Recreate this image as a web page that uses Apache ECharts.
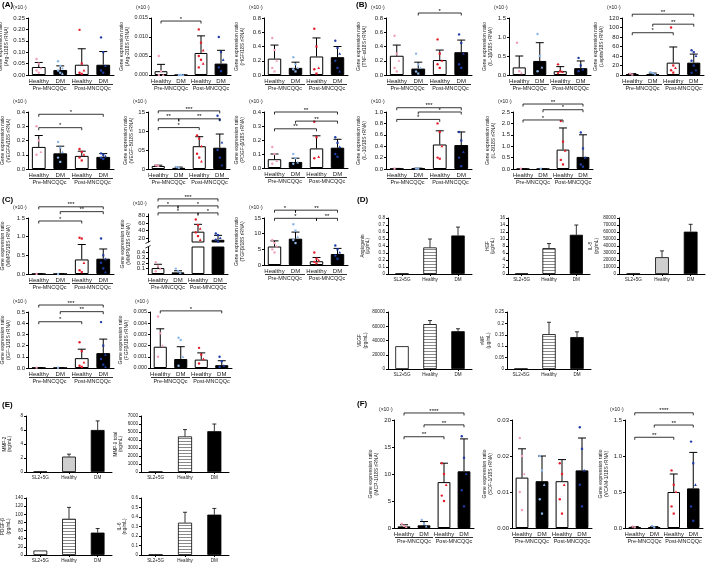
<!DOCTYPE html>
<html><head><meta charset="utf-8">
<script src="https://cdn.jsdelivr.net/npm/echarts@6/dist/echarts.min.js"></script>
<style>html,body{margin:0;padding:0;background:#fff}#c{width:709px;height:564px}</style>
</head><body><div id="c"></div>
<script>
// ---------- categories ----------
const CAT4 = ['Healthy','DM','Healthy','DM'];
const GROUPS = ['Pre-MNCQQc','Post-MNCQQc'];
const CAT3 = ['SL2+5G','Healthy','DM'];

// ---------- (A) ----------
const arg1Mean = [0.035,0.022,0.045,0.045];
const arg1Sd   = [0.055,0.040,0.115,0.103];
const arg1Pts  = [[0.07,0.05,0.03,0.02,0.01],[0.06,0.04,0.03,0.02,0.01,0.005],[0.198,0.05,0.02,0.01,0.005],[0.165,0.10,0.04,0.02,0.01]];
const arg1Sig  = [];

const arg2Mean = [0.001,0,0.0058,0.003];
const arg2Sd   = [0.0028,0,0.0103,0.0065];
const arg2Pts  = [[0.005,0.001,0,0],[0,0,0],[0.012,0.0085,0.0065,0.005,0.004,0.003,0.002],[0.010,0.006,0.004,0.002,0.001]];
const arg2Sig  = [[0,2,0.0142,'*']];

const hgfMean = [0.23,0.10,0.26,0.25];
const hgfSd   = [0.42,0.18,0.52,0.40];
const hgfPts  = [[0.52,0.35,0.2,0.1,0.05],[0.25,0.15,0.1,0.08,0.05],[0.65,0.4,0.1,0.08,0.02],[0.48,0.38,0.3,0.2,0.1,0.05]];
const hgfSig  = [];

const vegfaMean = [0.155,0.11,0.092,0.085];
const vegfaSd   = [0.235,0.16,0.125,0.108];
const vegfaPts  = [[0.30,0.2,0.12,0.1],[0.19,0.15,0.12,0.08,0.05],[0.14,0.12,0.10,0.08,0.06],[0.11,0.10,0.09,0.08,0.07]];
const vegfaSig  = [[0,3,0.384,'*'],[0,2,0.29,'*']];

const vegfbMean = [0.08,0.03,0.60,0.56];
const vegfbSd   = [0.10,0.05,0.85,0.92];
const vegfbPts  = [[0.10,0.08],[0.05,0.03],[0.88,0.8,0.6,0.4,0.3,0.2],[1.4,1.3,0.7,0.5,0.3,0.1]];
const vegfbSig  = [[0,3,1.53,'***'],[0,1,1.32,'**'],[1,3,1.32,'**'],[0,2,1.09,'*']];
const vegfbTicks = {'0':'0','0.5':'05','1':'10','1.5':'15'};

const pdgfMean = [0.063,0.043,0.14,0.145];
const pdgfSd   = [0.10,0.07,0.23,0.205];
const pdgfPts  = [[0.15,0.10,0.05,0.03],[0.10,0.07,0.04,0.03],[0.33,0.22,0.08,0.07],[0.22,0.18,0.15,0.10,0.08]];
const pdgfSig  = [[0,3,0.40,'**'],[1,3,0.335,'**'],[0,2,0.28,'**']];

// ---------- (B) ----------
const tnfMean = [0.27,0.09,0.21,0.32];
const tnfSd   = [0.42,0.18,0.35,0.49];
const tnfPts  = [[0.55,0.3,0.2,0.1,0.05],[0.3,0.15,0.1,0.05,0.02],[0.5,0.3,0.2,0.15,0.1],[0.57,0.45,0.3,0.15,0.1]];
const tnfSig  = [[1,3,0.87,'*']];

const il1Mean = [0.20,0.37,0.10,0.18];
const il1Sd   = [0.50,0.85,0.22,0.37];
const il1Pts  = [[0.85,0.1,0.05],[1.08,0.5,0.2,0.1],[0.28,0.1,0.08,0.05],[0.45,0.25,0.15,0.1]];
const il1Sig  = [];

const leptinMean = [2,2,26,26];
const leptinSd   = [3,4,59,44];
const leptinPts  = [[3,1],[6,4,2],[100,20,15,10,5],[52,48,40,30,20,10,5]];
const leptinSig  = [[0,3,128,'**'],[1,3,107,'**'],[0,2,89,'*']];

const il10Mean = [0.005,0.01,0.43,0.42];
const il10Sd   = [0.01,0.015,0.67,0.65];
const il10Pts  = [[0.005],[0.01,0.005],[0.8,0.65,0.4,0.2,0.18],[0.65,0.5,0.3,0.2,0.05]];
const il10Sig  = [[0,3,1.075,'***'],[1,3,1.0,'*'],[0,2,0.87,'*']];

const il8Mean = [0.005,0.005,0.85,0.53];
const il8Sd   = [0.01,0.01,1.8,1.5];
const il8Pts  = [[0.01],[0.01],[2.1,1.2,0.8,0.4,0.2],[1.6,0.9,0.5,0.2,0.1]];
const il8Sig  = [[0,3,2.85,'**'],[1,3,2.6,'*'],[0,2,2.15,'*']];

// ---------- (C) ----------
const mmp2Mean = [0.002,0.002,0.39,0.41];
const mmp2Sd   = [0.005,0.005,0.79,0.67];
const mmp2Pts  = [[0.003],[0.002],[0.97,0.95,0.3,0.1,0.05],[0.95,0.5,0.4,0.3,0.15,0.05]];
const mmp2Sig  = [[0,3,1.8,'***'],[1,3,1.67,'**'],[0,2,1.42,'*']];

const mmp9Mean = [0.11,0.03,37,15];
const mmp9Sd   = [0.18,0.06,57,27];
const mmp9Pts  = [[0.22,0.15,0.1,0.05],[0.1,0.05,0.02],[70,55,45,35,25,15],[32,28,20,15,10]];
const mmp9Sig  = [[0,3,126,'***'],[0,1,107,'*'],[1,3,107,'*'],[0,2,88,'*'],[2,3,88,'*']];
const mmp9TopTicks = [20,40,60,80];

const tgfMean = [5.9,8.4,1.2,3.5];
const tgfSd   = [7.7,10.5,2.4,5.3];
const tgfPts  = [[8,7,6,5,4],[13,11,9,8,7],[4,2,1.5,1,0.5],[6.2,5,4,3,2]];
const tgfSig  = [[0,1,17.5,'*'],[1,3,17.5,'**'],[0,2,14.9,'*'],[2,3,14.9,'**']];

const igfMean = [0.002,0.001,0.088,0.133];
const igfSd   = [0.004,0.002,0.168,0.258];
const igfPts  = [[0.003],[0.002],[0.23,0.15,0.05,0.02,0.01],[0.41,0.2,0.12,0.08,0.03,0.01]];
const igfSig  = [[0,3,0.5625,'***'],[1,3,0.503,'**'],[0,2,0.413,'*']];

const fgfMean = [0.0019,0.0008,0.00075,0.00025];
const fgfSd   = [0.0035,0.0019,0.00135,0.00065];
const fgfPts  = [[0.0046,0.0031,0.002,0.001],[0.0027,0.0025,0.001,0.0002],[0.0018,0.0012,0.0008,0.0004],[0.001,0.0006,0.0002,0.0001]];
const fgfSig  = [[0,3,0.0051,'*']];

// ---------- (F) ----------
const mcpMean = [0.3,0.5,8.5,10.5];
const mcpSd   = [0.6,1.2,12,16.5];
const mcpPts  = [[0.8,0.4,0.2],[1.5,0.8,0.3],[12,10,8,6,5],[17,13,10,7,4]];
const mcpSig  = [[0,3,21.3,'****'],[1,3,19.1,'**'],[0,2,16.9,'**']];

const sdfMean = [0.014,0.013,0.013,0.016];
const sdfSd   = [0.022,0.020,0.019,0.025];
const sdfPts  = [[0.025,0.02,0.015,0.01,0.005],[0.02,0.016,0.012,0.008,0.004],[0.018,0.015,0.012,0.008,0.004],[0.028,0.022,0.016,0.012,0.006]];
const sdfSig  = [];

const vcamMean = [0.01,0.01,0.5,0.55];
const vcamSd   = [0.02,0.02,0.75,1.05];
const vcamPts  = [[0.02,0.01],[0.03,0.01],[0.8,0.6,0.5,0.3,0.2],[1.2,0.9,0.6,0.3,0.1]];
const vcamSig  = [[0,3,1.6,'****'],[1,3,1.43,'**'],[0,2,1.26,'**']];

// ---------- (D) & (E) ----------
const angMean = [0.005,0.38,0.55];   const angSd = [null,0.50,0.67];
const dHgfMean = [0.1,7.4,11.2];     const dHgfSd = [null,8.7,14.0];
const dIl8Mean = [500,24000,60500];  const dIl8Sd = [null,33000,71000];
const dVegfMean = [32000,63000,53000]; const dVegfSd = [null,68000,56500];
const vwfMean = [0.001,0.153,0.14];  const vwfSd = [null,0.205,0.163];
const eMmp2Mean = [0.05,2.2,6.0];    const eMmp2Sd = [null,2.55,7.3];
const eMmp9Mean = [30,4450,5100];    const eMmp9Sd = [null,5300,6000];
const ePdgfMean = [11,89,55];        const ePdgfSd = [null,117,65];
const eIl6Mean = [0.003,0.34,0.425]; const eIl6Sd = [null,0.45,0.49];

// ---------- styling / building ----------
const FONT = '"Liberation Sans", Arial, sans-serif';
const TXT = '#1a1a1a';
const PCOL = ['#f2a0b6','#8cb7e9','#e31d2a','#1f3ea8'];
function stripe(){
  const cv = document.createElement('canvas'); cv.width = 4; cv.height = 3;
  const x = cv.getContext('2d'); x.fillStyle = '#fff'; x.fillRect(0,0,4,3);
  x.fillStyle = '#8a8a8a'; x.fillRect(0,0,4,1);
  return {image: cv, repeat: 'repeat'};
}
const STRIPE = stripe();

const option = {animation:false, backgroundColor:'#fff', textStyle:{fontFamily:FONT},
  grid:[], xAxis:[], yAxis:[], series:[], graphic:[]};

function addGrid(l,t,w,h){
  option.grid.push({left:l, top:t, width:w, height:h, containLabel:false, outerBoundsMode:'none'});
  return option.grid.length-1;
}
function gtext(x,y,text,size){
  option.graphic.push({type:'text', x:x, y:y, silent:true,
    style:{text:text, fontSize:size, fill:TXT, fontFamily:FONT, align:'left', verticalAlign:'top'}});
}
function addBars(g, mean, fills, bw, bc, lw){
  option.series.push({type:'bar', xAxisIndex:g, yAxisIndex:g, barWidth:bw, clip:true, silent:true, z:2,
    data: mean.map((v,i)=>({value:v, itemStyle:{color:fills[i], borderColor:bc||'#000', borderWidth:lw||1}}))});
}
function addErr(g, mean, sd, cap, lw){
  const data = [];
  mean.forEach((m,i)=>{ if (sd[i] !== null && sd[i] !== undefined) data.push([i, m, sd[i]]); });
  option.series.push({type:'custom', xAxisIndex:g, yAxisIndex:g, clip:false, silent:true, z:3, data:data,
    renderItem:(p,api)=>{
      const a = api.coord([api.value(0), api.value(1)]);
      const b = api.coord([api.value(0), api.value(2)]);
      return {type:'group', children:[
        {type:'line', shape:{x1:a[0],y1:a[1],x2:b[0],y2:b[1]}, style:{stroke:'#000', lineWidth:lw||1}},
        {type:'line', shape:{x1:b[0]-cap,y1:b[1],x2:b[0]+cap,y2:b[1]}, style:{stroke:'#000', lineWidth:lw||1}}]};
    }});
}
function addPts(g, pts, filter){
  const data = [];
  pts.forEach((arr,i)=>arr.forEach((v,j)=>{ if (!filter || filter(i,v)) data.push([i, v, j]); }));
  option.series.push({type:'custom', xAxisIndex:g, yAxisIndex:g, clip:false, silent:true, z:4, data:data,
    renderItem:(p,api)=>{
      const i = api.value(0), j = api.value(2);
      const c = api.coord([i, api.value(1)]);
      const dx = ((j % 3) - 1) * 2.2;
      const col = PCOL[i];
      if (j % 3 === 1) return {type:'rect', shape:{x:c[0]+dx-1.1, y:c[1]-1.1, width:2.2, height:2.2}, style:{fill:col}};
      if (j % 3 === 2) return {type:'polygon', shape:{points:[[c[0]+dx,c[1]-1.5],[c[0]+dx-1.4,c[1]+1.1],[c[0]+dx+1.4,c[1]+1.1]]}, style:{fill:col}};
      return {type:'circle', shape:{cx:c[0]+dx, cy:c[1], r:1.2}, style:{fill:col}};
    }});
}
function addSig(g, sig){
  if (!sig.length) return;
  option.series.push({type:'custom', xAxisIndex:g, yAxisIndex:g, clip:false, silent:true, z:5,
    data: sig.map(s=>[s[0], s[2]]),
    renderItem:(p,api)=>{
      const s = sig[p.dataIndex];
      const a = api.coord([s[0], s[2]]), b = api.coord([s[1], s[2]]);
      const d = 2.5;
      return {type:'group', children:[
        {type:'polyline', shape:{points:[[a[0],a[1]+d],[a[0],a[1]],[b[0],b[1]],[b[0],b[1]+d]]}, style:{stroke:'#000', lineWidth:0.8, fill:null}},
        {type:'text', x:(a[0]+b[0])/2, y:a[1]+1, style:{text:s[3], fontSize:6, fontFamily:FONT, align:'center', verticalAlign:'bottom', fill:'#000'}}]};
    }});
}
function addGroups(g){
  option.series.push({type:'custom', xAxisIndex:g, yAxisIndex:g, clip:false, silent:true, z:5,
    data:[[0,0],[2,0]],
    renderItem:(p,api)=>{
      const i = api.value(0);
      const a = api.coord([i,0]), b = api.coord([i+1,0]);
      const bw = api.size([1,0])[0];
      const y = a[1] + 9.5;
      return {type:'group', children:[
        {type:'line', shape:{x1:a[0]-bw/2+1, y1:y, x2:b[0]+bw/2-1, y2:y}, style:{stroke:'#000', lineWidth:0.8}},
        {type:'text', x:(a[0]+b[0])/2, y:y+4.2, style:{text:GROUPS[p.dataIndex], fontSize:5.5, fontFamily:FONT, align:'center', verticalAlign:'middle', fill:TXT}}]};
    }});
}
function xCat(g, data, fs, tick, show){
  option.xAxis.push({type:'category', gridIndex:g, data:data, show:show!==false,
    axisLine:{lineStyle:{color:'#000', width:1}},
    axisTick:{show:!!tick, alignWithLabel:true, length:2, lineStyle:{color:'#000'}},
    axisLabel:{interval:0, fontSize:fs, color:TXT, margin:3, fontFamily:FONT}});
}
function yVal(g, c, fs, name, gap, nfs){
  const y = {type:'value', gridIndex:g, min:c.min||0, max:c.max, splitLine:{show:false},
    axisLine:{show:true, lineStyle:{color:'#000', width:1}},
    axisTick:{show:true, length:2, lineStyle:{color:'#000'}},
    axisLabel:{fontSize:c.lfs||fs, color:TXT, margin:3, fontFamily:FONT}};
  if (c.step) y.interval = c.step;
  if (c.fmt) y.axisLabel.formatter = c.fmt;
  else if (c.dec !== undefined) y.axisLabel.formatter = v => v.toFixed(c.dec);
  else y.axisLabel.formatter = v => String(+v.toFixed(6));
  if (c.custom){ y.axisLabel.customValues = c.custom; y.axisTick.customValues = c.custom; }
  if (name){
    y.name = name; y.nameLocation = 'middle'; y.nameGap = gap; y.nameRotate = 90;
    y.nameTextStyle = {fontSize:nfs, color:TXT, lineHeight:nfs+1, fontFamily:FONT};
  }
  option.yAxis.push(y);
}
const FILL4 = ['#ffffff','#000000','#ffffff','#000000'];

function geneChart(c){
  const g = addGrid(c.left, c.top, c.w, c.h);
  xCat(g, CAT4, 6, false);
  yVal(g, c, 6, 'Gene expression ratio\n(' + c.name + '/18S rRNA)', c.gap || 16, 5);
  addBars(g, c.mean, FILL4, '64%');
  addErr(g, c.mean, c.sd, 4);
  addPts(g, c.pts);
  addSig(g, c.sig);
  addGroups(g);
  if (c.exp !== false) gtext(c.left - 15, c.top - 13, '(×10⁷)', 5);
}

function protChart(c){
  const g = addGrid(c.left, c.top, c.w, c.h);
  xCat(g, CAT3, 4.6, true);
  yVal(g, c, 4.6, c.title, c.gap || 15, 4.6);
  addBars(g, c.mean, c.fills, '48%', '#000', 0.8);
  addErr(g, c.mean, c.sd, 2, 0.8);
}

// (A)
geneChart({name:'Arg-1', left:28, top:18, w:86, h:57, max:0.25, step:0.05, dec:2, mean:arg1Mean, sd:arg1Sd, pts:arg1Pts, sig:arg1Sig, gap:16});
geneChart({name:'Arg-2', left:151, top:18, w:80, h:57, max:0.015, step:0.005, dec:3, lfs:5.4, mean:arg2Mean, sd:arg2Sd, pts:arg2Pts, sig:arg2Sig, gap:15});
geneChart({name:'HGF', left:264, top:18, w:84, h:57, max:0.8, step:0.2, dec:1, mean:hgfMean, sd:hgfSd, pts:hgfPts, sig:hgfSig, gap:18});
geneChart({name:'VEGFA', left:28, top:112, w:86, h:57, max:0.4, step:0.1, dec:1, mean:vegfaMean, sd:vegfaSd, pts:vegfaPts, sig:vegfaSig, gap:16});
geneChart({name:'VEGF-B', left:148, top:112, w:82, h:57, max:1.5, step:0.5, fmt:v=>vegfbTicks[String(v)]||String(v), mean:vegfbMean, sd:vegfbSd, pts:vegfbPts, sig:vegfbSig, gap:13});
geneChart({name:'PDGF-β', left:264, top:112, w:84, h:56, max:0.4, step:0.1, dec:1, mean:pdgfMean, sd:pdgfSd, pts:pdgfPts, sig:pdgfSig, gap:18});
// (B)
geneChart({name:'TNF-α', left:386, top:18, w:86, h:57, max:0.8, step:0.2, dec:1, mean:tnfMean, sd:tnfSd, pts:tnfPts, sig:tnfSig, gap:18});
geneChart({name:'IL-1β', left:509, top:18, w:82, h:57, max:1.5, step:0.5, dec:1, mean:il1Mean, sd:il1Sd, pts:il1Pts, sig:il1Sig, gap:14});
geneChart({name:'Leptin', left:622, top:18, w:82, h:57, max:120, step:20, dec:0, mean:leptinMean, sd:leptinSd, pts:leptinPts, sig:leptinSig, gap:15});
geneChart({name:'IL-10', left:386, top:112, w:86, h:57, max:1.0, step:0.2, dec:1, mean:il10Mean, sd:il10Sd, pts:il10Pts, sig:il10Sig, gap:18});
geneChart({name:'IL-8', left:513, top:112, w:80, h:57, max:2.5, step:0.5, dec:1, mean:il8Mean, sd:il8Sd, pts:il8Pts, sig:il8Sig, gap:16});
// (C)
geneChart({name:'MMP2', left:28, top:218, w:86, h:56, max:1.5, step:0.5, dec:1, mean:mmp2Mean, sd:mmp2Sd, pts:mmp2Pts, sig:mmp2Sig, gap:16});
geneChart({name:'TGFβ', left:264, top:218, w:84, h:47, max:15, step:5, dec:0, mean:tgfMean, sd:tgfSd, pts:tgfPts, sig:tgfSig, gap:18});
geneChart({name:'IGF-1', left:28, top:312, w:86, h:56, max:0.5, step:0.1, dec:1, mean:igfMean, sd:igfSd, pts:igfPts, sig:igfSig, gap:16});
geneChart({name:'FGFβ', left:150, top:312, w:82, h:56, max:0.005, step:0.001, dec:3, lfs:5.4, mean:fgfMean, sd:fgfSd, pts:fgfPts, sig:fgfSig, gap:15});

// (C) MMP9 with broken axis: top section and bottom section
(function(){
  const L = 148, W = 80;
  const gt = addGrid(L, 214, W, 28);
  xCat(gt, CAT4, 6, false, false);
  yVal(gt, {min:9, max:85, custom:mmp9TopTicks, dec:0}, 6);
  addBars(gt, mmp9Mean, FILL4, '64%');
  addErr(gt, mmp9Mean, mmp9Sd.map((s,i)=>i>=2?s:null), 4);
  addPts(gt, mmp9Pts, (i,v)=>v>1);
  addSig(gt, mmp9Sig);
  const gb = addGrid(L, 247, W, 27);
  xCat(gb, CAT4, 6, false);
  yVal(gb, {max:0.5, step:0.1, dec:1}, 6);
  addBars(gb, mmp9Mean, FILL4, '64%');
  addErr(gb, mmp9Mean.slice(0,2), mmp9Sd.slice(0,2), 4);
  addPts(gb, mmp9Pts, (i,v)=>v<=1);
  addGroups(gb);
  gtext(L-15, 214-13, '(×10⁷)', 5);
  option.graphic.push({type:'text', x:L-22, y:244, rotation:Math.PI/2, silent:true,
    style:{text:'Gene expression ratio\n(MMP9/18S rRNA)', fontSize:5, lineHeight:6, fill:TXT, fontFamily:FONT, align:'center', verticalAlign:'middle'}});
  option.graphic.push({type:'line', silent:true, shape:{x1:L-2.5, y1:243.5, x2:L+2.5, y2:241}, style:{stroke:'#000', lineWidth:0.8}});
  option.graphic.push({type:'line', silent:true, shape:{x1:L-2.5, y1:248, x2:L+2.5, y2:245.5}, style:{stroke:'#000', lineWidth:0.8}});
})();

// (F)
geneChart({name:'MCP-1', left:394, top:420, w:80, h:108, max:20, step:5, dec:0, mean:mcpMean, sd:mcpSd, pts:mcpPts, sig:mcpSig, gap:14});
geneChart({name:'SDF-1', left:512, top:420, w:80, h:108, max:0.03, step:0.01, dec:2, mean:sdfMean, sd:sdfSd, pts:sdfPts, sig:sdfSig, gap:16, exp:false});
geneChart({name:'VCAM-1', left:625, top:420, w:78, h:108, max:1.5, step:0.5, dec:1, mean:vcamMean, sd:vcamSd, pts:vcamPts, sig:vcamSig, gap:14});

// (D)
protChart({title:'Angiogenin\n(μg/mL)', left:388, top:218, w:84, h:56, max:0.8, step:0.1, mean:angMean, sd:angSd, fills:['#fff',STRIPE,'#000'], gap:17});
protChart({title:'HGF\n(μg/mL)', left:508, top:218, w:82, h:56, max:16, step:2, mean:dHgfMean, sd:dHgfSd, fills:['#fff',STRIPE,'#000'], gap:10});
protChart({title:'IL-8\n(pg/mL)', left:619, top:218, w:86, h:56, max:80000, step:10000, mean:dIl8Mean, sd:dIl8Sd, fills:['#fff','#cfcfcf','#000'], gap:18});
protChart({title:'VEGF\n(pg/mL)', left:388, top:312, w:84, h:57, max:80000, step:20000, mean:dVegfMean, sd:dVegfSd, fills:['#fff',STRIPE,'#000'], gap:18});
protChart({title:'vWF\n(μg/mL)', left:507, top:312, w:84, h:57, max:0.25, step:0.05, mean:vwfMean, sd:vwfSd, fills:['#fff',STRIPE,'#000'], gap:14});
// (E)
protChart({title:'MMP-2\n(ng/mL)', left:26, top:416, w:86, h:56, max:8, step:2, mean:eMmp2Mean, sd:eMmp2Sd, fills:['#fff','#cfcfcf','#000'], gap:13});
protChart({title:'MMP-9 total\n(ng/mL)', left:141, top:416, w:88, h:56, max:7000, step:1000, mean:eMmp9Mean, sd:eMmp9Sd, fills:['#fff',STRIPE,'#000'], gap:14});
protChart({title:'PDGF-β\n(pg/mL)', left:26, top:498, w:86, h:57, max:140, step:20, mean:ePdgfMean, sd:ePdgfSd, fills:['#fff',STRIPE,'#000'], gap:13});
protChart({title:'IL-6\n(ng/mL)', left:141, top:498, w:88, h:57, max:0.6, step:0.1, mean:eIl6Mean, sd:eIl6Sd, fills:['#fff',STRIPE,'#000'], gap:10});

// panel letters
[['(A)',2,1],['(B)',356,1],['(C)',2,196],['(D)',357,196],['(E)',2,401],['(F)',357,400]].forEach(l=>{
  option.graphic.push({type:'text', x:l[1], y:l[2], silent:true, style:{text:l[0], fontSize:8, fontWeight:'bold', fill:'#000', fontFamily:FONT}});
});

const chart = echarts.init(document.getElementById('c'), null, {renderer:'canvas'});
chart.setOption(option);
</script></body></html>
